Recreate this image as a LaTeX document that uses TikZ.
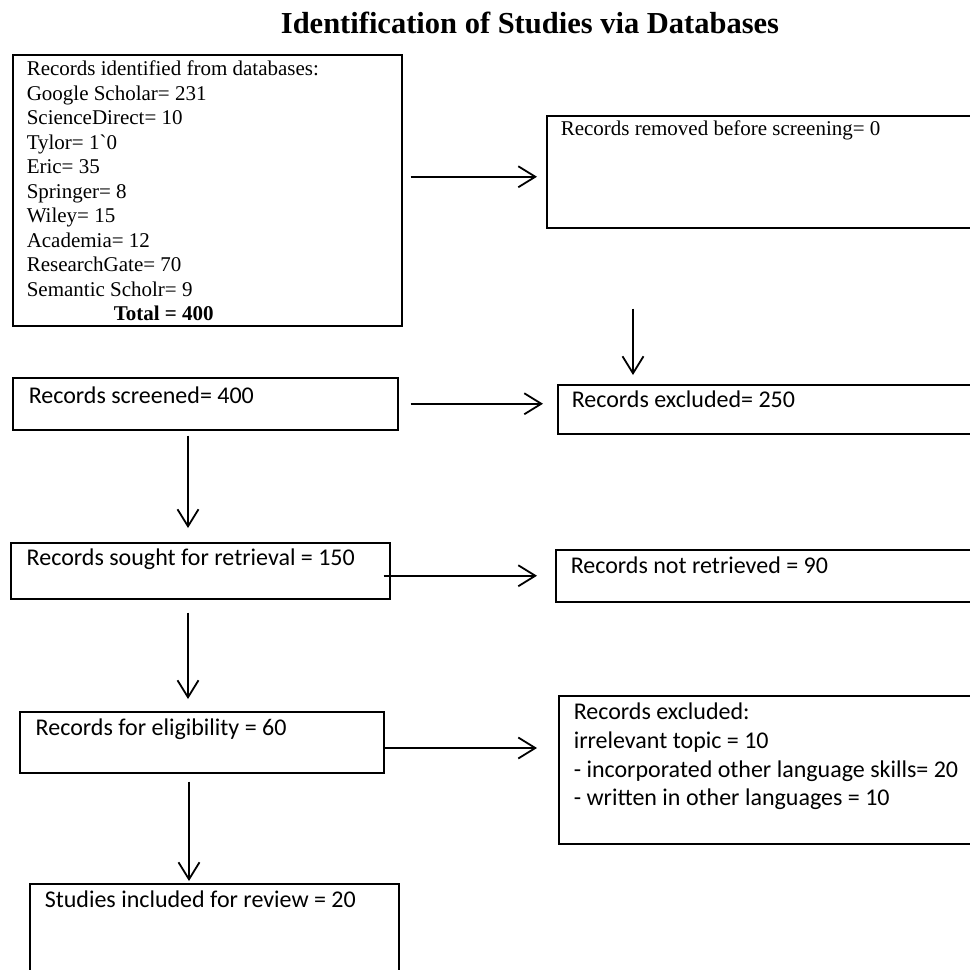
\documentclass[tikz,border=0pt]{standalone}
\usepackage{fontspec}
\setmainfont{Liberation Serif}
\newfontfamily\calibri{Carlito}
\usepackage{tikz}
\usetikzlibrary{arrows.meta,calc}
\newcommand{\tms}{\fontsize{21}{24.5}\selectfont}
\newcommand{\clb}{\calibri\fontsize{24}{28.7}\selectfont}
% width, height, first baseline, left pad, text
\newcommand{\inbox}[5]{\parbox[t][#2][t]{#1}{\leftskip=#4\relax\rule{0pt}{#3}#5\par}}
\tikzset{
  flow/.style={draw=black,line width=1.5pt,inner sep=0pt,anchor=north west},
  arr/.style={line width=1.8pt,-{Straight Barb[length=17pt,width=21pt]}}
}

\begin{document}
\begin{tikzpicture}[x=1pt,y=-1pt]
    \useasboundingbox (0,0) rectangle (970,970);
    \clip (0,0) rectangle (970,970);

    \node[anchor=base,font=\bfseries\fontsize{30.5}{36}\selectfont] (title) at (530,33) {Identification of Studies via Databases};

    \node[flow] (dbs) at (12,54) {\inbox{389pt}{271pt}{21pt}{14pt}{\tms Records identified from databases:\\
      Google Scholar= 231\\
      ScienceDirect= 10\\
      Tylor= 1\textasciigrave 0\\
      Eric= 35\\
      Springer= 8\\
      Wiley= 15\\
      Academia= 12\\
      ResearchGate= 70\\
      Semantic Scholr= 9\\
      \hspace*{87pt}\textbf{Total = 400}}};
    \node[flow] (removed) at (546,115) {\inbox{440pt}{112pt}{20pt}{14pt}{\tms Records removed before screening= 0}};

    \node[flow] (screened) at (12,377) {\inbox{385pt}{52pt}{26pt}{16pt}{\clb Records screened= 400}};
    \node[flow] (excl) at (557,384) {\inbox{430pt}{49pt}{23pt}{14pt}{\clb Records excluded= 250}};

    \node[flow] (sought) at (10,542) {\inbox{379pt}{56pt}{23pt}{16pt}{\clb Records sought for retrieval = 150}};
    \node[flow] (notret) at (555,549) {\inbox{430pt}{52pt}{24pt}{15pt}{\clb Records not retrieved = 90}};

    \node[flow] (elig) at (19,711) {\inbox{364pt}{61pt}{24pt}{16pt}{\clb Records for eligibility = 60}};
    \node[flow] (excl2) at (558,695) {\inbox{430pt}{148pt}{24pt}{15pt}{\clb Records excluded:\\
      irrelevant topic = 10\\
      - incorporated other language skills= 20\\
      - written in other languages = 10}};

    \node[flow] (incl) at (29,883) {\inbox{369pt}{100pt}{24pt}{15pt}{\clb Studies included for review = 20}};

    \coordinate (r1) at ([yshift=-5pt]removed.west);
    \draw[arr,shorten <=8pt,shorten >=9pt] (dbs.east |- r1) -- (r1);
    \draw[arr] ([xshift=87pt,yshift=-80pt]removed.south west) -- ([xshift=76pt,yshift=9pt]excl.north west);

    \draw[arr,shorten <=12pt,shorten >=14pt] (screened.east) -- (screened.east -| excl.west);
    \draw[arr,shorten <=5pt,shorten >=14pt] ([xshift=176pt]screened.south west) -- ([xshift=176pt]screened.south west |- sought.north);

    \draw[arr,shorten <=-7pt,shorten >=18pt] (notret.west -| sought.east) -- (notret.west);
    \draw[arr,shorten <=13pt,shorten >=12pt] ([xshift=178pt]sought.south west) -- ([xshift=178pt]sought.south west |- elig.north);

    \coordinate (e2) at ([yshift=-53pt]excl2.north west);
    \draw[arr,shorten >=21pt] (elig.east |- e2) -- (e2);
    \draw[arr,shorten <=8pt,shorten >=2pt] ([xshift=170pt]elig.south west) -- ([xshift=170pt]elig.south west |- incl.north);
\end{tikzpicture}
\end{document}
